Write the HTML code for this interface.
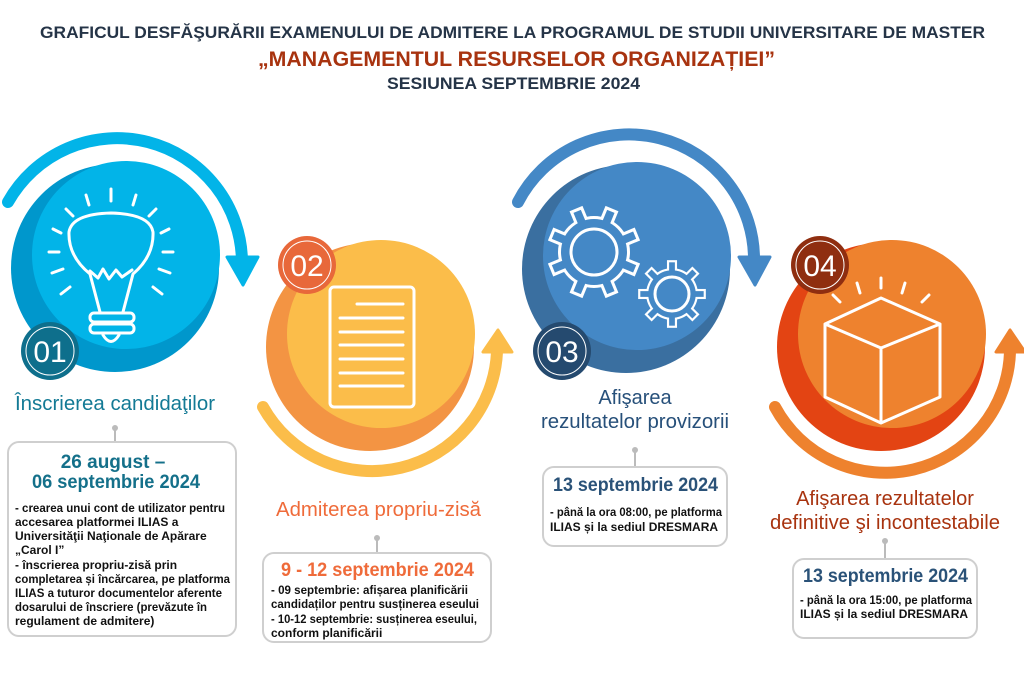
<!DOCTYPE html>
<html><head><meta charset="utf-8"><style>
body{margin:0;background:#fff;}
svg{display:block}
text{font-family:"Liberation Sans",sans-serif;}
.t{font-weight:bold;}
.b{font-weight:bold;font-size:12px;fill:#111;}
</style></head><body>
<svg width="1024" height="682" viewBox="0 0 1024 682" xmlns="http://www.w3.org/2000/svg">
<defs>
<g id="gw"><circle r="36" fill="#fff"/>
<g fill="#fff"><rect x="-7" y="-47" width="14" height="20"/><rect x="-7" y="-47" width="14" height="20" transform="rotate(45)"/><rect x="-7" y="-47" width="14" height="20" transform="rotate(90)"/><rect x="-7" y="-47" width="14" height="20" transform="rotate(135)"/><rect x="-7" y="-47" width="14" height="20" transform="rotate(180)"/><rect x="-7" y="-47" width="14" height="20" transform="rotate(225)"/><rect x="-7" y="-47" width="14" height="20" transform="rotate(270)"/><rect x="-7" y="-47" width="14" height="20" transform="rotate(315)"/></g></g>
<g id="gb"><circle r="33" fill="#4488c6"/>
<g fill="#4488c6"><rect x="-4" y="-44" width="8" height="17"/><rect x="-4" y="-44" width="8" height="17" transform="rotate(45)"/><rect x="-4" y="-44" width="8" height="17" transform="rotate(90)"/><rect x="-4" y="-44" width="8" height="17" transform="rotate(135)"/><rect x="-4" y="-44" width="8" height="17" transform="rotate(180)"/><rect x="-4" y="-44" width="8" height="17" transform="rotate(225)"/><rect x="-4" y="-44" width="8" height="17" transform="rotate(270)"/><rect x="-4" y="-44" width="8" height="17" transform="rotate(315)"/></g></g>
</defs>
<!-- titles -->
<text x="40" y="38" font-size="17" class="t" fill="#253447" textLength="945" lengthAdjust="spacingAndGlyphs">GRAFICUL DESFĂŞURĂRII EXAMENULUI DE ADMITERE LA PROGRAMUL DE STUDII UNIVERSITARE DE MASTER</text>
<text x="258" y="66" font-size="21" class="t" fill="#a8330f" textLength="517" lengthAdjust="spacingAndGlyphs">„MANAGEMENTUL RESURSELOR ORGANIZAȚIEI”</text>
<text x="387" y="89" font-size="17" class="t" fill="#253447" textLength="253" lengthAdjust="spacingAndGlyphs">SESIUNEA SEPTEMBRIE 2024</text>

<!-- circle 1 -->
<circle cx="115" cy="268" r="104" fill="#0097cc"/>
<circle cx="126" cy="255" r="94" fill="#02b4e8"/>
<path d="M 8 202 A 125 125 0 0 1 242 262" fill="none" stroke="#02b4e8" stroke-width="12" stroke-linecap="round"/>
<polygon points="227,257 258,257 243,285" fill="#02b4e8" stroke="#02b4e8" stroke-width="3" stroke-linejoin="round"/>
<!-- bulb -->
<g stroke="#fff" stroke-width="3" fill="none" stroke-linecap="round" stroke-linejoin="round">
<path d="M100 312 L90 274 Q68 256 69 232 Q72 214 111 213 Q150 214 153 232 Q154 256 133 274 L123 312"/>
<path d="M90 271 L98 278 L103 269 L109 279 L116 270 L122 277 L132 270"/>
<rect x="90" y="313" width="44" height="9" rx="4"/>
<rect x="90" y="324" width="44" height="9" rx="4"/>
<path d="M103 335 Q111 348 119 335"/>
<path d="M111 201 L111 189 M89 205 L86 195 M133 205 L136 195 M73 216 L66 209 M149 216 L156 209 M61 233 L53 229 M161 233 L169 229 M59 252 L49 252 M163 252 L173 252 M63 269 L52 273 M159 269 L170 273 M70 287 L61 294 M153 287 L162 294"/>
</g>
<circle cx="50" cy="351" r="29" fill="#0e6f8c"/>
<circle cx="50" cy="351" r="24" fill="none" stroke="#fff" stroke-width="1"/>
<text x="50" y="362" font-size="30" fill="#fff" text-anchor="middle">01</text>

<!-- circle 2 -->
<circle cx="370" cy="347" r="104" fill="#f39443"/>
<circle cx="381" cy="334" r="94" fill="#fbbd4a"/>
<path d="M 263 407 A 125 125 0 0 0 497 352" fill="none" stroke="#fbbd4a" stroke-width="12" stroke-linecap="round"/>
<polygon points="483,352 512,352 498,330" fill="#fbbd4a" stroke="#fbbd4a" stroke-width="3" stroke-linejoin="round"/>
<g stroke="#fff" stroke-width="3" fill="none" stroke-linecap="round">
<rect x="330" y="287" width="84" height="120" rx="4"/>
<path d="M357 304 L403 304 M340 318 L403 318 M340 332 L403 332 M340 345 L403 345 M340 359 L403 359 M340 373 L403 373 M340 386 L403 386"/>
</g>
<circle cx="307" cy="265" r="29" fill="#e8683a"/>
<circle cx="307" cy="265" r="24" fill="none" stroke="#fff" stroke-width="1"/>
<text x="307" y="276" font-size="30" fill="#fff" text-anchor="middle">02</text>

<!-- circle 3 -->
<circle cx="626" cy="269" r="104" fill="#3a6fa0"/>
<circle cx="637" cy="256" r="94" fill="#4488c6"/>
<path d="M 518 202 A 125 125 0 0 1 754 262" fill="none" stroke="#4488c6" stroke-width="12" stroke-linecap="round"/>
<polygon points="739,257 770,257 755,285" fill="#4488c6" stroke="#4488c6" stroke-width="3" stroke-linejoin="round"/>
<!-- gears -->
<g transform="translate(594,252) rotate(22.5)">
<use href="#gw"/><use href="#gb"/>
</g>
<circle cx="594" cy="252" r="23" fill="none" stroke="#fff" stroke-width="3"/>
<g transform="translate(672,294) scale(0.72)">
<use href="#gw"/><use href="#gb"/>
</g>
<circle cx="672" cy="294" r="17" fill="none" stroke="#fff" stroke-width="3"/>
<circle cx="562" cy="351" r="29" fill="#254a6f"/>
<circle cx="562" cy="351" r="24" fill="none" stroke="#fff" stroke-width="1"/>
<text x="562" y="362" font-size="30" fill="#fff" text-anchor="middle">03</text>

<!-- circle 4 -->
<circle cx="881" cy="347" r="104" fill="#e34413"/>
<circle cx="892" cy="334" r="94" fill="#ee822e"/>
<path d="M 775 407 A 125 125 0 0 0 1010 352" fill="none" stroke="#ee822e" stroke-width="12" stroke-linecap="round"/>
<polygon points="996,352 1025,352 1010,330" fill="#ee822e" stroke="#ee822e" stroke-width="3" stroke-linejoin="round"/>
<g stroke="#fff" stroke-width="3" fill="none" stroke-linejoin="round" stroke-linecap="round">
<path d="M825 324 L881 298 L940 324 L940 397 L881 423 L825 397 Z M825 324 L881 348 L940 324 M881 348 L881 423"/>
<path d="M881 288 L881 278 M860 293 L857 283 M902 293 L905 283 M840 302 L833 295 M922 302 L929 295"/>
</g>
<circle cx="820" cy="265" r="29" fill="#8f2e10"/>
<circle cx="820" cy="265" r="24" fill="none" stroke="#fff" stroke-width="1"/>
<text x="820" y="276" font-size="30" fill="#fff" text-anchor="middle">04</text>

<!-- step titles -->
<text x="15" y="410" font-size="20" fill="#137a95" textLength="200" lengthAdjust="spacingAndGlyphs">Înscrierea candidaţilor</text>
<text x="276" y="516" font-size="20" fill="#ef6b3a" textLength="205" lengthAdjust="spacingAndGlyphs">Admiterea propriu-zisă</text>
<text x="635" y="404" font-size="20" fill="#27507a" text-anchor="middle">Afişarea</text>
<text x="541" y="428" font-size="20" fill="#27507a" textLength="188" lengthAdjust="spacingAndGlyphs">rezultatelor provizorii</text>
<text x="885" y="505" font-size="20" fill="#a8330f" text-anchor="middle">Afişarea rezultatelor</text>
<text x="770" y="529" font-size="20" fill="#a8330f" textLength="230" lengthAdjust="spacingAndGlyphs">definitive şi incontestabile</text>

<!-- connectors -->
<g stroke="#bbb" stroke-width="2" fill="#bbb">
<line x1="115" y1="428" x2="115" y2="442"/><circle cx="115" cy="428" r="3" stroke="none"/>
<line x1="377" y1="538" x2="377" y2="553"/><circle cx="377" cy="538" r="3" stroke="none"/>
<line x1="635" y1="450" x2="635" y2="467"/><circle cx="635" cy="450" r="3" stroke="none"/>
<line x1="885" y1="541" x2="885" y2="559"/><circle cx="885" cy="541" r="3" stroke="none"/>
</g>
<g fill="#fff" stroke="#cfcfcf" stroke-width="2">
<rect x="8" y="442" width="228" height="194" rx="11"/>
<rect x="263" y="553" width="228" height="89" rx="11"/>
<rect x="543" y="467" width="184" height="79" rx="11"/>
<rect x="793" y="559" width="184" height="79" rx="11"/>
</g>

<!-- box1 -->
<text x="113" y="468" font-size="19" class="t" fill="#14708a" text-anchor="middle">26 august –</text>
<text x="32" y="488" font-size="19" class="t" fill="#14708a" textLength="168" lengthAdjust="spacingAndGlyphs">06 septembrie 2024</text>
<text class="b" x="15" y="512" textLength="210" lengthAdjust="spacingAndGlyphs">- crearea unui cont de utilizator pentru</text>
<text class="b" x="15" y="526">accesarea platformei ILIAS a</text>
<text class="b" x="15" y="540">Universităţii Naţionale de Apărare</text>
<text class="b" x="15" y="554">„Carol I”</text>
<text class="b" x="15" y="569">- înscrierea propriu-zisă prin</text>
<text class="b" x="15" y="583" textLength="215" lengthAdjust="spacingAndGlyphs">completarea și încărcarea, pe platforma</text>
<text class="b" x="15" y="597" textLength="207" lengthAdjust="spacingAndGlyphs">ILIAS a tuturor documentelor aferente</text>
<text class="b" x="15" y="611" textLength="192" lengthAdjust="spacingAndGlyphs">dosarului de înscriere (prevăzute în</text>
<text class="b" x="15" y="625">regulament de admitere)</text>

<!-- box2 -->
<text x="281" y="576" font-size="19" class="t" fill="#ef6b3a" textLength="193" lengthAdjust="spacingAndGlyphs">9 - 12 septembrie 2024</text>
<text class="b" x="271" y="594" textLength="197" lengthAdjust="spacingAndGlyphs">- 09 septembrie: afișarea planificării</text>
<text class="b" x="271" y="608" textLength="208" lengthAdjust="spacingAndGlyphs">candidaților pentru susținerea eseului</text>
<text class="b" x="271" y="623" textLength="206" lengthAdjust="spacingAndGlyphs">- 10-12 septembrie: susținerea eseului,</text>
<text class="b" x="271" y="637">conform planificării</text>

<!-- box3 -->
<text x="553" y="491" font-size="19" class="t" fill="#2a5278" textLength="165" lengthAdjust="spacingAndGlyphs">13 septembrie 2024</text>
<text class="b" x="550" y="516" textLength="172" lengthAdjust="spacingAndGlyphs">- până la ora 08:00, pe platforma</text>
<text class="b" x="550" y="531">ILIAS și la sediul DRESMARA</text>

<!-- box4 -->
<text x="803" y="582" font-size="19" class="t" fill="#2a5278" textLength="165" lengthAdjust="spacingAndGlyphs">13 septembrie 2024</text>
<text class="b" x="800" y="604" textLength="172" lengthAdjust="spacingAndGlyphs">- până la ora 15:00, pe platforma</text>
<text class="b" x="800" y="618">ILIAS și la sediul DRESMARA</text>
</svg>
</body></html>
